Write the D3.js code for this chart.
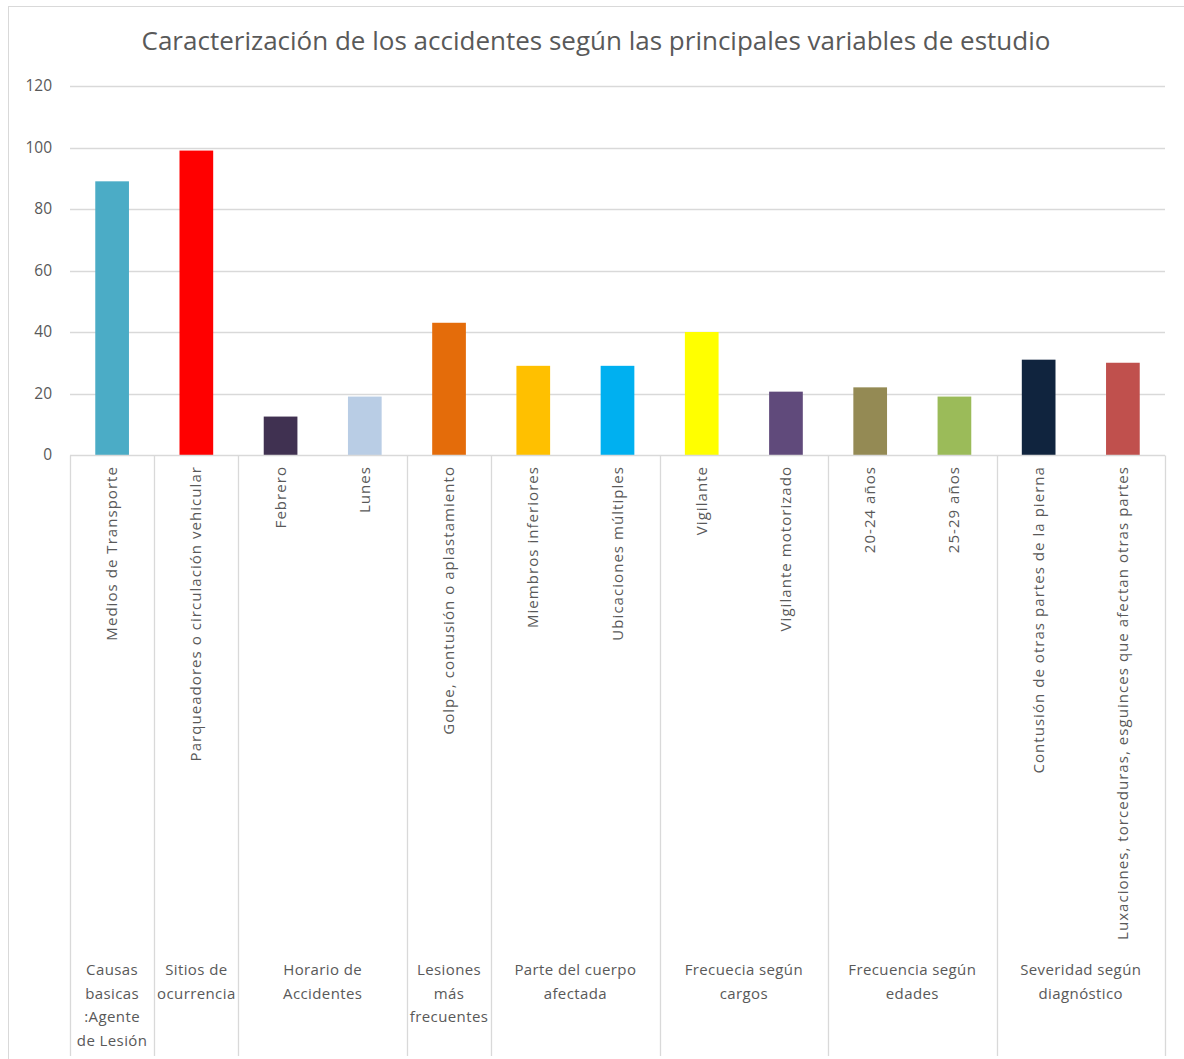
<!DOCTYPE html>
<html>
<head>
<meta charset="utf-8">
<script src="https://cdn.jsdelivr.net/npm/d3@7"></script>
<style>
  body { margin: 0; background: #fff; }
  text { font-family: "Open Sans", Lato, sans-serif; fill: #595959; }
</style>
</head>
<body>
<svg id="chart" width="1184" height="1059"></svg>
<script>
// datos
var categories = ["Medios de Transporte", "Parqueadores o circulación vehicular", "Febrero", "Lunes",
  "Golpe, contusión o aplastamiento", "Miembros inferiores", "Ubicaciones múltiples", "Vigilante",
  "Vigilante motorizado", "20-24 años", "25-29 años", "Contusión de otras partes de la pierna",
  "Luxaciones, torceduras, esguinces que afectan otras partes"];
var values = [89, 99, 12.5, 19, 43, 29, 29, 40, 20.6, 22, 19, 31, 30];
var colors = ["#4bacc6", "#ff0000", "#403151", "#b9cde5", "#e46c0a", "#ffc000", "#00b0f0", "#ffff00",
  "#604a7b", "#948a54", "#9bbb59", "#10243e", "#c0504d"];
// grupos: [etiqueta en lineas, numero de categorias]
var groupLabels = [["Causas", "basicas", ":Agente", "de Lesión"], ["Sitios de", "ocurrencia"],
  ["Horario de", "Accidentes"], ["Lesiones", "más", "frecuentes"], ["Parte del cuerpo", "afectada"],
  ["Frecuecia según", "cargos"], ["Frecuencia según", "edades"], ["Severidad según", "diagnóstico"]];
var groupSizes = [1, 1, 2, 1, 2, 2, 2, 2];
var yTicks = [0, 20, 40, 60, 80, 100, 120];
var title = "Caracterización de los accidentes según las principales variables de estudio";

var svg = d3.select("#chart"),
  margin = {top: 86, left: 70, right: 19, bottom: 604},
  width = 1184, height = 1059;

// borde del grafico
svg.append("rect")
  .attr("x", 8.5).attr("y", 6.5)
  .attr("width", 1190).attr("height", 1100)
  .attr("fill", "none").attr("stroke", "#d9d9d9");

var x = d3.scaleBand()
  .domain(d3.range(categories.length))
  .range([margin.left, width - margin.right])
  .paddingInner(0.6).paddingOuter(0.3);

var y = d3.scaleLinear()
  .domain([0, 120])
  .range([height - margin.bottom, margin.top]);

var step = x.step();
var x0 = margin.left, x1 = width - margin.right;

// lineas de cuadricula
svg.append("g")
  .selectAll("line")
  .data(yTicks.slice(1))
  .join("line")
  .attr("x1", x0).attr("x2", x1)
  .attr("y1", d => Math.round(y(d)) + 0.5).attr("y2", d => Math.round(y(d)) + 0.5)
  .attr("stroke", "#d9d9d9").attr("stroke-width", 1.3);

// etiquetas eje y
svg.append("g")
  .selectAll("text")
  .data(yTicks)
  .join("text")
  .attr("x", 52)
  .attr("y", d => y(d) + 5)
  .attr("text-anchor", "end")
  .style("font-size", "15.5px")
  .text(d => d);

// barras
svg.append("g")
  .selectAll("rect")
  .data(values)
  .join("rect")
  .attr("x", (d, i) => x(i))
  .attr("y", d => y(d))
  .attr("width", x.bandwidth())
  .attr("height", d => y(0) - y(d))
  .attr("fill", (d, i) => colors[i]);

// eje x y separadores de grupo
var y0 = Math.round(y(0)) + 0.5;
svg.append("line")
  .attr("x1", x0).attr("x2", x1).attr("y1", y0).attr("y2", y0)
  .attr("stroke", "#d9d9d9").attr("stroke-width", 1.3);

var bounds = [0];
groupSizes.forEach(n => bounds.push(bounds[bounds.length - 1] + n));

svg.append("g")
  .selectAll("line")
  .data(bounds)
  .join("line")
  .attr("x1", d => Math.round(x0 + d * step) + 0.5)
  .attr("x2", d => Math.round(x0 + d * step) + 0.5)
  .attr("y1", y0).attr("y2", 1056)
  .attr("stroke", "#d9d9d9").attr("stroke-width", 1.3);

// etiquetas de categoria rotadas
svg.append("g")
  .selectAll("text")
  .data(categories)
  .join("text")
  .attr("transform", (d, i) => "translate(" + (x(i) + x.bandwidth() / 2 + 5) + ",466) rotate(-90)")
  .attr("text-anchor", "end")
  .style("font-size", "15px")
  .style("letter-spacing", "1.05px")
  .text(d => d);

// etiquetas de grupo
var gl = svg.append("g")
  .selectAll("text")
  .data(groupLabels)
  .join("text")
  .attr("text-anchor", "middle")
  .style("font-size", "15px")
  .style("letter-spacing", "0.4px");

gl.each(function(d, i) {
  var cx = x0 + (bounds[i] + bounds[i + 1]) / 2 * step;
  d3.select(this).selectAll("tspan")
    .data(d)
    .join("tspan")
    .attr("x", cx)
    .attr("y", (t, j) => 975 + j * 23.5)
    .text(t => t);
});

// titulo
svg.append("text")
  .attr("x", 596).attr("y", 50)
  .attr("text-anchor", "middle")
  .style("font-size", "26px")
  .text(title);
</script>
</body>
</html>
